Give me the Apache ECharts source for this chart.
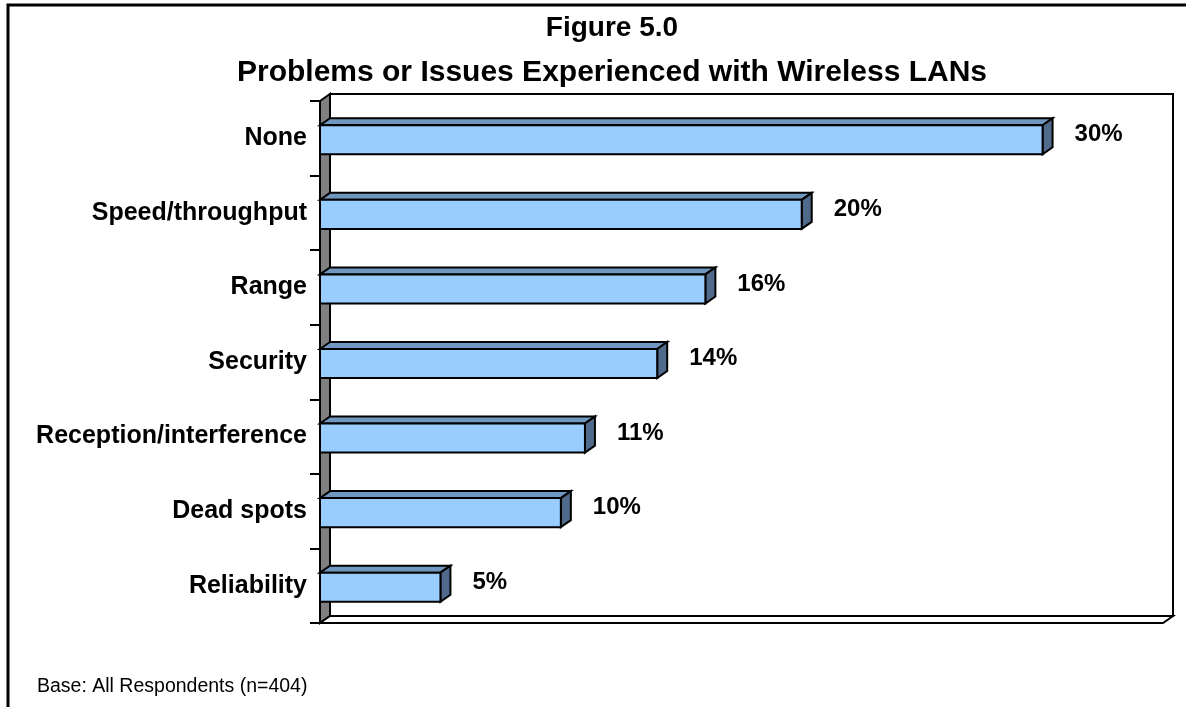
<!DOCTYPE html>
<html>
<head>
<meta charset="utf-8">
<script src="https://cdn.jsdelivr.net/npm/echarts@6/dist/echarts.min.js"></script>
<style>
html,body{margin:0;padding:0;background:#fff;}
#chart{width:1186px;height:707px;}
</style>
</head>
<body>
<div id="chart"></div>
<script>
const titleLine1 = 'Figure 5.0';
const titleLine2 = 'Problems or Issues Experienced with Wireless LANs';
const categories = ['None', 'Speed/throughput', 'Range', 'Security', 'Reception/interference', 'Dead spots', 'Reliability'];
const values = [30, 20, 16, 14, 11, 10, 5];
const footnote = 'Base: All Respondents (n=404)';
const axisMax = 35;

const FONT = "'Liberation Sans', Arial, sans-serif";
const DX = 10, DY = 7;

const chart = echarts.init(document.getElementById('chart'), null, {renderer: 'canvas'});

function wallsRender(params, api) {
  const n = categories.length;
  const tl = api.coord([0, 0]);
  const band = api.size([0, 1])[1];
  const br = api.coord([axisMax, n - 1]);
  const x0 = tl[0], x1 = br[0];
  const yT = tl[1] - band / 2, yB = br[1] + band / 2;
  const st = {stroke: '#000', lineWidth: 2, lineJoin: 'miter'};
  return {
    type: 'group',
    children: [
      {type: 'polygon', shape: {points: [[x0 + DX, yT - DY], [x1 + DX, yT - DY], [x1 + DX, yB - DY], [x0 + DX, yB - DY]]}, style: Object.assign({fill: '#fff'}, st)},
      {type: 'polygon', shape: {points: [[x0, yT], [x0 + DX, yT - DY], [x0 + DX, yB - DY], [x0, yB]]}, style: Object.assign({fill: '#808080'}, st)},
      {type: 'polygon', shape: {points: [[x0, yB], [x0 + DX, yB - DY], [x1 + DX, yB - DY], [x1, yB]]}, style: Object.assign({fill: '#fff'}, st)}
    ]
  };
}

function barRender(params, api) {
  const v = api.value(0);
  const idx = api.value(1);
  const c0 = api.coord([0, idx]);
  const c1 = api.coord([v, idx]);
  const band = api.size([0, 1])[1];
  const h = band * 0.39;
  const cy = c0[1] + 1.5;
  const x0 = c0[0], x1 = c1[0];
  const yT = cy - h / 2, yB = cy + h / 2;
  const st = {stroke: '#000', lineWidth: 2, lineJoin: 'miter'};
  return {
    type: 'group',
    children: [
      {type: 'polygon', shape: {points: [[x0, yT], [x0 + DX, yT - DY], [x1 + DX, yT - DY], [x1, yT]]}, style: Object.assign({fill: '#7097BF'}, st)},
      {type: 'polygon', shape: {points: [[x1, yT], [x1 + DX, yT - DY], [x1 + DX, yB - DY], [x1, yB]]}, style: Object.assign({fill: '#4F6A8A'}, st)},
      {type: 'rect', shape: {x: x0, y: yT, width: x1 - x0, height: yB - yT}, style: Object.assign({fill: '#99CCFF'}, st)},
      {type: 'text', x: x1 + DX + 22, y: cy - 5, style: {text: v + '%', fill: '#000', font: 'bold 24px ' + FONT, textAlign: 'left', textVerticalAlign: 'middle'}}
    ]
  };
}

const option = {
  backgroundColor: '#fff',
  animation: false,
  title: [
    {
      text: titleLine1, left: 607, textAlign: 'center', top: 9,
      textStyle: {fontFamily: FONT, fontWeight: 'bold', fontSize: 28, color: '#000'}
    },
    {
      text: titleLine2, left: 607, textAlign: 'center', top: 53,
      textStyle: {fontFamily: FONT, fontWeight: 'bold', fontSize: 30, color: '#000'}
    }
  ],
  graphic: [
    {type: 'polyline', shape: {points: [[8, 720], [8, 5], [1200, 5]]}, style: {stroke: '#000', lineWidth: 3, fill: null}, z: 100},
    {type: 'text', left: 37, top: 677, style: {text: footnote, font: '19.5px ' + FONT, fill: '#000'}}
  ],
  grid: {left: 320, right: 23, top: 101, bottom: 84, containLabel: false},
  xAxis: {
    type: 'value', min: 0, max: axisMax,
    axisLine: {show: false}, axisTick: {show: false}, axisLabel: {show: false}, splitLine: {show: false}
  },
  yAxis: {
    type: 'category', data: categories, inverse: true,
    axisLine: {show: true, lineStyle: {color: '#000', width: 2}},
    axisTick: {show: true, length: 10, lineStyle: {color: '#000', width: 2}},
    axisLabel: {color: '#000', fontFamily: FONT, fontWeight: 'bold', fontSize: 25, margin: 13, padding: [4, 0, 0, 0]},
    splitLine: {show: false},
    z: 10
  },
  series: [
    {type: 'custom', renderItem: wallsRender, data: [[0, 0]], encode: {x: 0, y: 1}, z: 1, silent: true},
    {type: 'custom', renderItem: barRender, data: values.map((v, i) => [v, i]), encode: {x: 0, y: 1}, z: 5}
  ]
};
chart.setOption(option);
</script>
</body>
</html>
